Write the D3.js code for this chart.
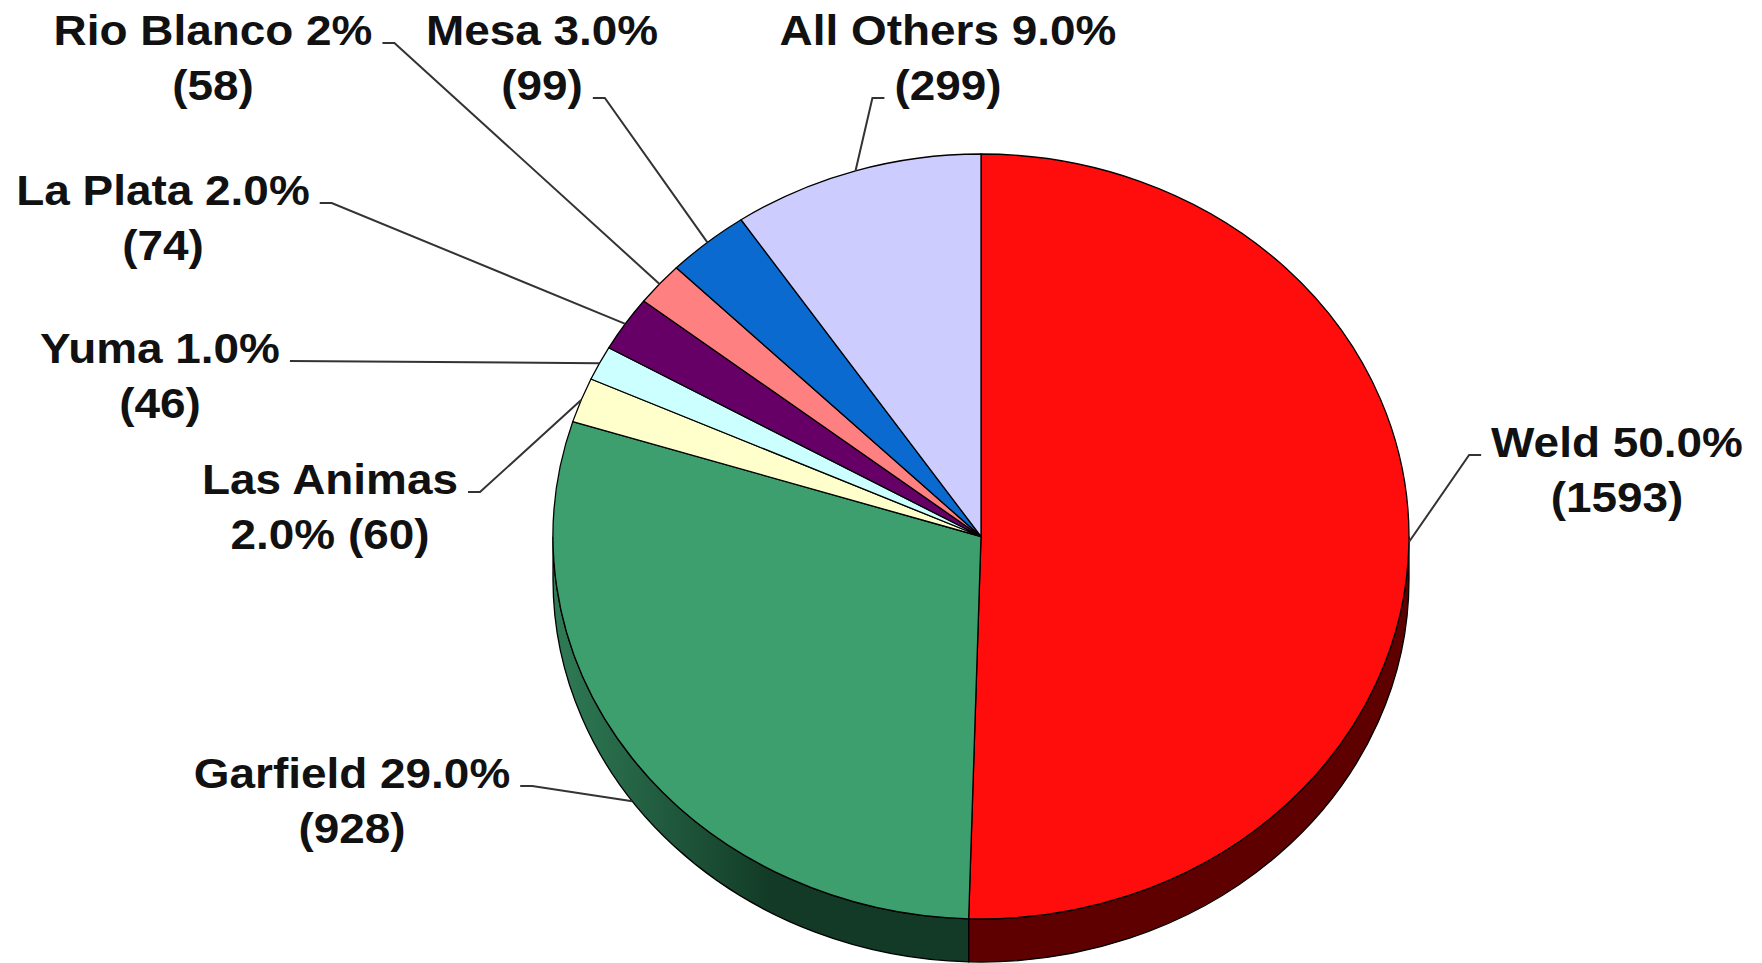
<!DOCTYPE html>
<html>
<head>
<meta charset="utf-8">
<script src="https://cdn.jsdelivr.net/npm/d3@7"></script>
<style>
  html, body { margin: 0; padding: 0; background: #fff; }
  svg { display: block; }
  text { font-family: "Liberation Sans", Arial, sans-serif; font-weight: bold; }
</style>
</head>
<body>
<svg class="pie3d"></svg>
<script>
// counties, clockwise from 12 o'clock
const counties = ["Weld", "Garfield", "Las Animas", "Yuma", "La Plata", "Rio Blanco", "Mesa", "All Others"];
const counts = [1593, 928, 60, 46, 74, 58, 99, 299];
const labelLine1 = ["Weld 50.0%", "Garfield 29.0%", "Las Animas", "Yuma 1.0%", "La Plata 2.0%", "Rio Blanco 2%", "Mesa 3.0%", "All Others 9.0%"];
const labelLine2 = ["(1593)", "(928)", "2.0% (60)", "(46)", "(74)", "(58)", "(99)", "(299)"];

const topColors  = ["#ff0c0c", "#3d9f6d", "#ffffcc", "#ccffff", "#660066", "#ff8080", "#0a6ad0", "#ccccff"];

// label placement: centre x, line-1 baseline, which line the leader leaves from, side
const labelLayout = [
    {x: 1617, y: 457, line: 1, side: "left"},
    {x: 352,  y: 788, line: 1, side: "right"},
    {x: 330,  y: 494, line: 1, side: "right"},
    {x: 160,  y: 363, line: 1, side: "right"},
    {x: 163,  y: 205, line: 1, side: "right"},
    {x: 213,  y: 45,  line: 1, side: "right"},
    {x: 542,  y: 45,  line: 2, side: "right"},
    {x: 948,  y: 45,  line: 2, side: "left"}
]

const W = 1762, H = 963
const cx = 981, cy = 536.5, rx = 428, ry = 382.5, depth = 43
const lineGap = 55
const stretch = 1.068

const svg = d3.select("svg.pie3d")
    .attr("width", W)
    .attr("height", H)
    .attr("viewBox", `0 0 ${W} ${H}`)

const defs = svg.append("defs")
const gGreen = defs.append("linearGradient")
    .attr("id", "sideGreen")
    .attr("gradientUnits", "userSpaceOnUse")
    .attr("x1", cx - rx).attr("y1", 0)
    .attr("x2", cx - rx + 220).attr("y2", 0)
gGreen.append("stop").attr("offset", 0).attr("stop-color", "#2f7c56")
gGreen.append("stop").attr("offset", 1).attr("stop-color", "#123a26")

const sideFill = ["#5e0000", "url(#sideGreen)", "#b3b38f", "#8fb3b3", "#470047", "#b35a5a", "#074a92", "#8f8fb3"]

const pie = d3.pie().sort(null).value(d => d)
const arcs = pie(counts)

// angle measured clockwise from 12 o'clock
const pt = (a, dy = 0) => [cx + rx * Math.sin(a), cy - ry * Math.cos(a) + dy]

function topPath(d) {
    const p0 = pt(d.startAngle), p1 = pt(d.endAngle)
    const large = d.endAngle - d.startAngle > Math.PI ? 1 : 0
    return `M${cx},${cy}L${p0}A${rx},${ry} 0 ${large} 1 ${p1}Z`
}

function sidePath(d) {
    const s = Math.max(d.startAngle, Math.PI / 2)
    const e = Math.min(d.endAngle, Math.PI * 1.5)
    if (e <= s) return null
    const a = pt(s), b = pt(e), b2 = pt(e, depth), a2 = pt(s, depth)
    return `M${a}A${rx},${ry} 0 0 1 ${b}L${b2}A${rx},${ry} 0 0 0 ${a2}Z`
}

const pieGroup = svg.append("g")

pieGroup.selectAll("path.side")
    .data(arcs.filter(d => sidePath(d)))
    .enter()
    .append("path")
    .attr("class", "side")
    .attr("d", sidePath)
    .attr("fill", d => sideFill[d.index])
    .attr("stroke", "#000")
    .attr("stroke-width", 1.3)

pieGroup.selectAll("path.top")
    .data(arcs)
    .enter()
    .append("path")
    .attr("class", "top")
    .attr("d", topPath)
    .attr("fill", d => topColors[d.index])
    .attr("stroke", "#000")
    .attr("stroke-width", 1.3)
    .attr("stroke-linejoin", "round")

// labels
const labelGroup = svg.append("g")

arcs.forEach((d, i) => {
    const lay = labelLayout[i]
    const g = labelGroup.append("g")
        .attr("transform", `translate(${lay.x},${lay.y}) scale(${stretch},1)`)
    const t1 = g.append("text")
        .attr("text-anchor", "middle")
        .attr("font-size", 43)
        .attr("fill", "#111")
        .text(labelLine1[i])
    const t2 = g.append("text")
        .attr("text-anchor", "middle")
        .attr("y", lineGap)
        .attr("font-size", 43)
        .attr("fill", "#111")
        .text(labelLine2[i])

    const tw = (lay.line === 1 ? t1 : t2).node().getComputedTextLength() * stretch
    const ly = lay.y + (lay.line === 1 ? 0 : lineGap) - 2
    const dir = lay.side === "right" ? 1 : -1
    const sx = lay.x + dir * (tw / 2 + 10)
    const kx = sx + dir * 12

    const mid = (d.startAngle + d.endAngle) / 2
    const c = Math.cos(mid)
    const end = pt(mid, c < -0.3 ? depth : 0)

    const pts = Math.abs(end[1] - ly) < 3 ? [[sx, ly], end] : [[sx, ly], [kx, ly], end]
    labelGroup.append("path")
        .attr("d", d3.line()(pts))
        .attr("fill", "none")
        .attr("stroke", "#333")
        .attr("stroke-width", 2)
})
</script>
</body>
</html>
